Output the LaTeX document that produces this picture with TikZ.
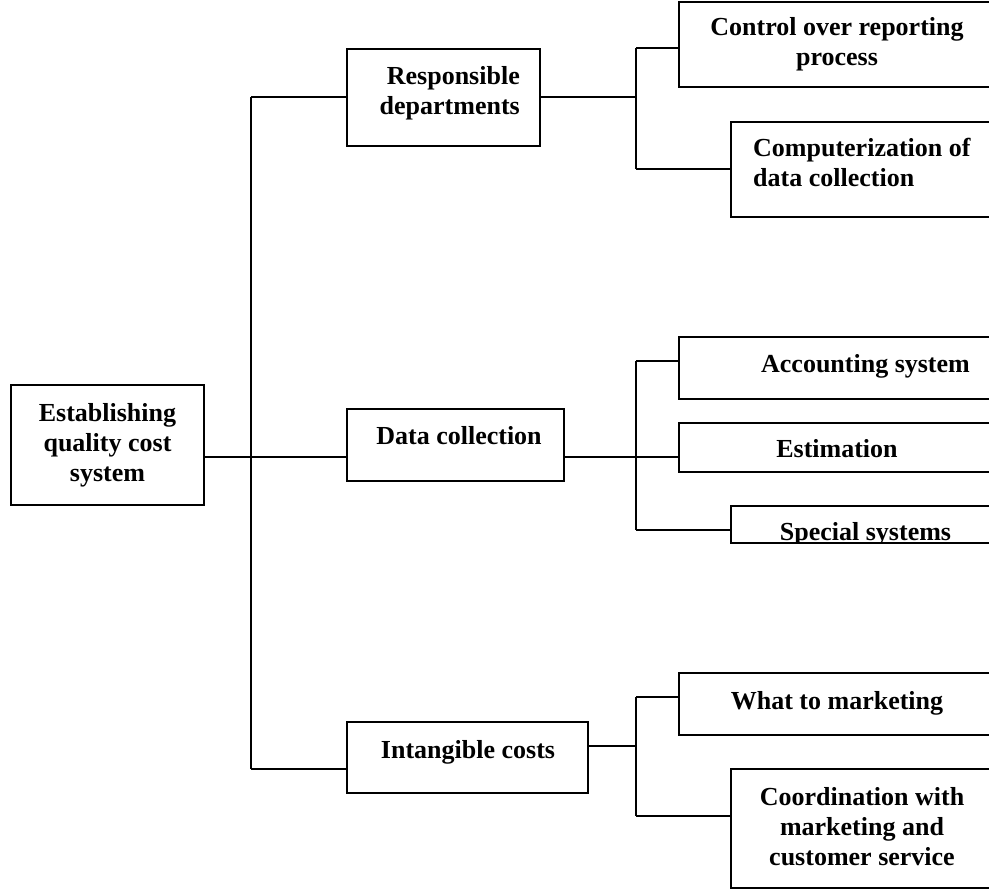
\documentclass[tikz,border=0pt]{standalone}
\usepackage{fontspec}
\setmainfont{Liberation Serif}
\begin{document}
\begin{tikzpicture}[x=1pt,y=-1pt,
  box/.style={draw,line width=1.8pt,rectangle,inner sep=0pt,fill=white},
  txt/.style={inner sep=0pt,font=\fontsize{26}{30}\selectfont\bfseries},
  link/.style={line width=1.8pt}]
\useasboundingbox (0,0) rectangle (989,890);
\clip (0,0) rectangle (989,890);

% boxes
\node[box,minimum width=193,minimum height=120] (root)    at (107.5,445) {};
\node[box,minimum width=193,minimum height=97]  (resp)    at (443.5,97.5) {};
\node[box,minimum width=217,minimum height=72]  (data)    at (455.5,445) {};
\node[box,minimum width=241,minimum height=71]  (intang)  at (467.5,757.5) {};
\node[box,minimum width=321,minimum height=85]  (control) at (839.5,44.5) {};
\node[box,minimum width=269,minimum height=95]  (comp)    at (865.5,169.5) {};
\node[box,minimum width=321,minimum height=62]  (acct)    at (839.5,368) {};
\node[box,minimum width=321,minimum height=49]  (estim)   at (839.5,447.5) {};
\node[box,minimum width=269,minimum height=37]  (special) at (865.5,524.5) {};
\node[box,minimum width=321,minimum height=62]  (what)    at (839.5,704) {};
\node[box,minimum width=269,minimum height=119] (coord)   at (865.5,828.5) {};

% labels (multi-line labels are placed by the baseline of their last line)
\node[txt,align=center,anchor=base] (root-t) at (107.5,482) {Establishing\\quality cost\\system};
\node[txt,align=right,anchor=base east] (resp-t) at (520,115) {Responsible\\departments};
\node[txt,anchor=base] (data-t) at (459,445) {Data collection};
\node[txt,anchor=base] (intang-t) at (468,758) {Intangible costs};
\node[txt,align=center,anchor=base] (control-t) at (837,66) {Control over reporting\\process};
\node[txt,align=left,anchor=base west] (comp-t) at (753,187) {Computerization of\\data collection};
\node[txt,anchor=base] (acct-t) at (865.5,373) {Accounting system};
\node[txt,anchor=base] (estim-t) at (837,458) {Estimation};
\begin{scope}
  \clip (special.north west) rectangle (special.south east);
  \node[txt,anchor=base] (special-t) at (865.5,541) {Special systems};
\end{scope}
\node[box,fill=none,minimum width=269,minimum height=37] (special-frame) at (special) {};
\node[txt,anchor=base] (what-t) at (837,709) {What to marketing};
\node[txt,align=center,anchor=base] (coord-t) at (862,865) {Coordination with\\marketing and\\customer service};

% junction points
\coordinate (j-top) at (251,97);
\coordinate (j-mid) at (251,457);
\coordinate (j-bot) at (251,769);
\coordinate (b1) at (636,97);
\coordinate (b1-top) at (636,48);
\coordinate (b1-bot) at (636,169);
\coordinate (b2) at (636,457);
\coordinate (b2-top) at (636,361);
\coordinate (b2-bot) at (636,530);
\coordinate (b3) at (636,746);
\coordinate (b3-top) at (636,697);
\coordinate (b3-bot) at (636,816);

% trunk
\draw[link] (j-top) -- (j-bot);
\draw[link] (root.east |- j-mid) -- (data.west |- j-mid);
\draw[link] (j-top) -- (resp.west |- j-top);
\draw[link] (j-bot) -- (intang.west |- j-bot);

% first group
\draw[link] (resp.east |- b1) -- (b1);
\draw[link] (b1-top) -- (b1-bot);
\draw[link] (b1-top) -- (control.west |- b1-top);
\draw[link] (b1-bot) -- (comp.west |- b1-bot);

% second group
\draw[link] (data.east |- b2) -- (estim.west |- b2);
\draw[link] (b2-top) -- (b2-bot);
\draw[link] (b2-top) -- (acct.west |- b2-top);
\draw[link] (b2-bot) -- (special.west |- b2-bot);

% third group
\draw[link] (intang.east |- b3) -- (b3);
\draw[link] (b3-top) -- (b3-bot);
\draw[link] (b3-top) -- (what.west |- b3-top);
\draw[link] (b3-bot) -- (coord.west |- b3-bot);
\end{tikzpicture}
\end{document}
